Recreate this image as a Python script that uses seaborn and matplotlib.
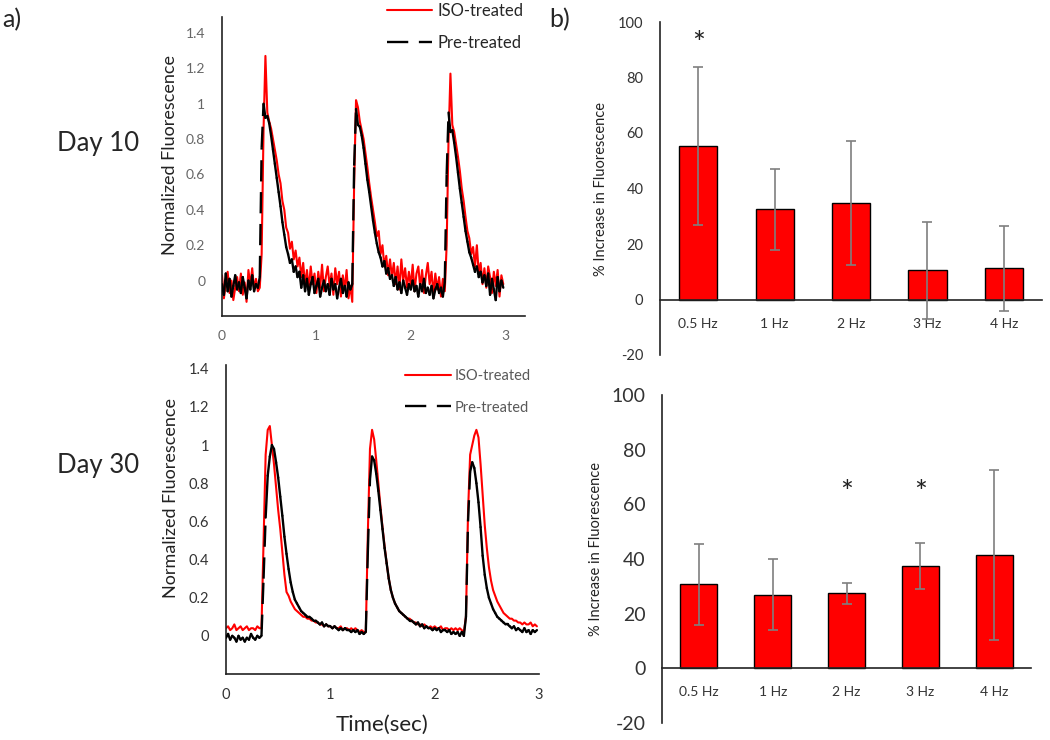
import numpy as np
import pandas as pd
import seaborn as sns
import matplotlib.pyplot as plt
from matplotlib.collections import LineCollection
from matplotlib.lines import Line2D

sns.set_style('white')
plt.rcParams['font.family'] = ['Lato', 'DejaVu Sans']
plt.rcParams['axes.unicode_minus'] = False

# sampling grid of the traces (s)
time_sec = np.round(np.arange(150) * 0.02, 2)

# Day 10 traces (one row = 0.2 s)
day10_iso = [
    0.03, -0.10, -0.02, 0.05, -0.07, 0.00, -0.11, -0.04, 0.02, -0.06,
    0.04, -0.08, -0.01, -0.12, 0.06, -0.03, 0.07, -0.05, 0.01, -0.06,
    -0.04, 0.15, 0.85, 1.27, 0.95, 0.90, 0.86, 0.80, 0.74, 0.68,
    0.60, 0.55, 0.45, 0.40, 0.30, 0.27, 0.18, 0.22, 0.12, 0.17,
    0.08, 0.13, 0.02, 0.10, -0.03, 0.06, -0.05, 0.08, -0.02, 0.04,
    -0.07, 0.05, -0.04, 0.09, -0.06, 0.02, 0.08, -0.03, 0.04, -0.08,
    0.07, -0.02, 0.05, -0.09, 0.03, -0.05, 0.06, -0.10, -0.03, -0.12,
    0.55, 1.02, 0.98, 0.90, 0.85, 0.80, 0.72, 0.64, 0.55, 0.47,
    0.40, 0.33, 0.25, 0.28, 0.15, 0.20, 0.08, 0.14, 0.03, 0.12,
    0.02, 0.10, -0.02, 0.08, -0.05, 0.12, 0.00, 0.07, -0.04, 0.05,
    -0.03, 0.09, -0.06, 0.04, 0.08, -0.04, 0.06, -0.07, 0.03, 0.10,
    -0.02, 0.05, -0.08, 0.04, -0.05, 0.02, -0.09, 0.01, -0.06, 0.20,
    0.80, 1.17, 0.88, 0.84, 0.77, 0.70, 0.62, 0.52, 0.45, 0.36,
    0.28, 0.24, 0.15, 0.19, 0.08, 0.20, 0.04, 0.10, -0.02, 0.07,
    -0.04, 0.08, 0.02, -0.07, 0.05, -0.03, 0.06, -0.09, 0.03, -0.02,
]
day10_pre = [
    -0.02, -0.08, 0.04, -0.06, 0.01, -0.09, -0.03, 0.03, -0.05, -0.01,
    -0.07, 0.02, -0.04, -0.10, 0.00, -0.05, 0.03, -0.06, -0.02, -0.04,
    0.02, 0.75, 1.00, 0.92, 0.93, 0.89, 0.82, 0.74, 0.66, 0.58,
    0.50, 0.42, 0.33, 0.26, 0.19, 0.15, 0.10, 0.12, 0.05, 0.08,
    0.02, 0.05, -0.04, 0.03, -0.06, 0.01, -0.08, -0.02, 0.02, -0.07,
    -0.03, 0.01, -0.09, -0.04, 0.00, -0.06, -0.02, -0.08, 0.01, -0.05,
    -0.02, -0.10, -0.04, 0.01, -0.07, -0.03, -0.09, -0.01, -0.05, -0.02,
    0.65, 0.97, 0.88, 0.87, 0.82, 0.75, 0.66, 0.57, 0.50, 0.42,
    0.34, 0.27, 0.21, 0.16, 0.13, 0.08, 0.11, 0.04, 0.07, 0.01,
    0.03, -0.03, 0.02, -0.05, -0.01, -0.07, 0.00, -0.04, -0.08, -0.02,
    -0.05, 0.00, -0.06, -0.03, -0.09, -0.02, -0.06, 0.01, -0.07, -0.04,
    -0.08, -0.03, -0.10, -0.05, -0.02, -0.07, -0.04, -0.09, -0.01, 0.60,
    0.95, 0.84, 0.85, 0.78, 0.70, 0.61, 0.52, 0.44, 0.36, 0.28,
    0.22, 0.16, 0.13, 0.09, 0.05, 0.08, 0.02, 0.05, -0.01, 0.03,
    -0.03, 0.04, -0.08, 0.01, -0.05, -0.11, 0.02, -0.06, 0.00, -0.04,
]

# Day 30 traces
day30_iso = [
    0.04, 0.05, 0.03, 0.04, 0.06, 0.03, 0.04, 0.05, 0.03, 0.04,
    0.05, 0.03, 0.04, 0.04, 0.03, 0.05, 0.04, 0.04, 0.50, 0.95,
    1.08, 1.10, 1.00, 0.90, 0.78, 0.66, 0.56, 0.44, 0.32, 0.23,
    0.21, 0.18, 0.16, 0.14, 0.13, 0.12, 0.11, 0.10, 0.10, 0.09,
    0.09, 0.08, 0.08, 0.07, 0.07, 0.06, 0.06, 0.05, 0.06, 0.05,
    0.05, 0.04, 0.05, 0.04, 0.04, 0.05, 0.03, 0.04, 0.04, 0.03,
    0.04, 0.03, 0.04, 0.03, 0.02, 0.03, 0.02, 0.02, 0.55, 0.98,
    1.08, 1.03, 0.92, 0.80, 0.68, 0.57, 0.47, 0.38, 0.30, 0.24,
    0.20, 0.17, 0.15, 0.13, 0.12, 0.11, 0.10, 0.09, 0.09, 0.08,
    0.07, 0.07, 0.06, 0.06, 0.05, 0.06, 0.05, 0.04, 0.05, 0.04,
    0.05, 0.04, 0.04, 0.05, 0.03, 0.04, 0.04, 0.03, 0.04, 0.03,
    0.04, 0.03, 0.04, 0.03, 0.02, 0.10, 0.65, 0.95, 1.00, 1.05,
    1.08, 1.04, 0.90, 0.74, 0.58, 0.46, 0.36, 0.29, 0.24, 0.21,
    0.18, 0.16, 0.14, 0.12, 0.11, 0.10, 0.09, 0.09, 0.08, 0.08,
    0.07, 0.07, 0.06, 0.07, 0.06, 0.06, 0.07, 0.05, 0.06, 0.05,
]
day30_pre = [
    -0.01, 0.01, -0.02, 0.00, -0.01, -0.03, 0.00, -0.02, -0.01, -0.03,
    -0.01, -0.02, 0.01, -0.01, -0.02, 0.00, -0.01, 0.00, 0.30, 0.62,
    0.84, 0.94, 1.00, 0.98, 0.91, 0.83, 0.73, 0.63, 0.52, 0.43,
    0.35, 0.28, 0.23, 0.19, 0.17, 0.15, 0.13, 0.12, 0.11, 0.10,
    0.10, 0.09, 0.08, 0.08, 0.07, 0.06, 0.07, 0.05, 0.06, 0.05,
    0.05, 0.04, 0.05, 0.04, 0.03, 0.04, 0.03, 0.04, 0.03, 0.03,
    0.02, 0.03, 0.02, 0.03, 0.01, 0.02, 0.01, 0.02, 0.45, 0.82,
    0.94, 0.92, 0.85, 0.76, 0.66, 0.56, 0.46, 0.38, 0.30, 0.24,
    0.20, 0.17, 0.15, 0.13, 0.12, 0.11, 0.10, 0.09, 0.08, 0.08,
    0.07, 0.06, 0.07, 0.05, 0.06, 0.04, 0.05, 0.04, 0.04, 0.03,
    0.04, 0.03, 0.04, 0.02, 0.03, 0.03, 0.02, 0.03, 0.01, 0.02,
    0.01, 0.02, 0.00, 0.02, 0.00, 0.10, 0.60, 0.86, 0.91, 0.88,
    0.80, 0.70, 0.57, 0.42, 0.32, 0.25, 0.20, 0.17, 0.14, 0.12,
    0.10, 0.09, 0.08, 0.07, 0.06, 0.06, 0.05, 0.04, 0.05, 0.03,
    0.04, 0.03, 0.02, 0.04, 0.02, 0.03, 0.01, 0.03, 0.02, 0.03,
]

# bar charts (% increase, mean and error)
freqs = ['0.5 Hz', '1 Hz', '2 Hz', '3 Hz', '4 Hz']
day10_increase = [55.2, 32.5, 34.7, 10.5, 11.3]
day10_err = [28.5, 14.5, 22.3, 17.5, 15.3]
day10_sig = ['0.5 Hz']
day30_increase = [30.7, 27.0, 27.5, 37.5, 41.5]
day30_err = [14.8, 13.0, 3.8, 8.5, 31.2]
day30_sig = ['2 Hz', '3 Hz']

W, H = 1050, 740
fig = plt.figure(figsize=(10.5, 7.4), dpi=100)
DASH = (0, (9, 4.5))


def px_axes(x0, y_top, x1, y_bot):
    return fig.add_axes([x0 / W, 1 - y_bot / H, (x1 - x0) / W, (y_bot - y_top) / H])


def trace_panel(ax, iso, pre, xmax, ymax, tick_color, tick_size):
    df = pd.DataFrame({'Time': time_sec, 'ISO': iso})
    sns.lineplot(data=df, x='Time', y='ISO', ax=ax, color='#ff0000', lw=1.5, zorder=2)
    # black trace: steep jumps show the long dash, short steps look solid
    pts = np.column_stack([time_sec, pre])
    segs = np.stack([pts[:-1], pts[1:]], axis=1)
    steep = np.abs(np.diff(pre)) > 0.22
    ax.add_collection(LineCollection(segs[~steep], colors='black', linewidths=1.7,
                                     capstyle='round', zorder=3))
    ax.add_collection(LineCollection(segs[steep], colors='black', linewidths=1.7,
                                     linestyles=[DASH], zorder=3))
    ax.set_xlim(0, xmax)
    ax.set_ylim(-0.2, ymax)
    ax.set_xticks([0, 1, 2, 3])
    ax.set_yticks([0, 0.2, 0.4, 0.6, 0.8, 1, 1.2, 1.4])
    ax.set_yticklabels(['0', '0.2', '0.4', '0.6', '0.8', '1', '1.2', '1.4'])
    ax.tick_params(length=0, labelsize=tick_size, colors=tick_color, pad=10)
    ax.tick_params(axis='y', pad=12)
    sns.despine(ax=ax)
    for s in ['left', 'bottom']:
        ax.spines[s].set_color('#222222')
        ax.spines[s].set_linewidth(1.2)
    ax.set_xlabel('')
    ax.set_ylabel('Normalized Fluorescence', fontsize=13, color='#222222')


def bar_panel(ax, vals, errs, ytick_size):
    sns.barplot(x=freqs, y=vals, color='#ff0000', saturation=1, width=0.5,
                edgecolor='black', linewidth=1.0, ax=ax, zorder=2)
    ax.errorbar(range(len(freqs)), vals, yerr=errs, fmt='none', ecolor='#7f7f7f',
                elinewidth=1.2, capsize=3.5, capthick=1.2, zorder=4)
    ax.set_xlim(-0.5, 4.5)
    ax.set_ylim(-20, 100)
    ax.set_yticks(range(-20, 101, 20))
    ax.spines['bottom'].set_position(('data', 0))
    sns.despine(ax=ax)
    for s in ['left', 'bottom']:
        ax.spines[s].set_color('#222222')
        ax.spines[s].set_linewidth(1.2)
    ax.tick_params(length=0, colors='#333333')
    ax.tick_params(axis='x', labelsize=10, pad=13)
    ax.tick_params(axis='y', labelsize=ytick_size, pad=12)
    ax.set_ylabel('% Increase in Fluorescence', fontsize=10.5, color='#222222')


# a) traces
ax1 = px_axes(222, 17, 525, 316)
trace_panel(ax1, day10_iso, day10_pre, 3.21, 1.49, '#666666', 10)
ax1.yaxis.set_label_coords(-0.145, 0.54)

ax2 = px_axes(226, 365, 539, 674)
trace_panel(ax2, day30_iso, day30_pre, 3.0, 1.42, '#333333', 10.5)
ax2.yaxis.set_label_coords(-0.15, 0.57)

# legends
h_iso = Line2D([], [], color='#ff0000', lw=1.5)
h_pre = Line2D([], [], color='black', lw=1.7, linestyle=DASH)
fig.legend([h_iso, h_pre], ['ISO-treated', 'Pre-treated'], loc='upper left',
           bbox_to_anchor=(387 / W, 1 - 3 / H), frameon=False, fontsize=12,
           handlelength=2.7, handletextpad=0.35, labelspacing=0.95,
           borderpad=0, borderaxespad=0, labelcolor='#262626')
fig.legend([h_iso, h_pre], ['ISO-treated', 'Pre-treated'], loc='upper left',
           bbox_to_anchor=(405 / W, 1 - 369 / H), frameon=False, fontsize=10.5,
           handlelength=3.15, handletextpad=0.27, labelspacing=1.2,
           borderpad=0, borderaxespad=0, labelcolor='#595959')

# b) bar charts
ax3 = px_axes(660, 22, 1042, 355)
bar_panel(ax3, day10_increase, day10_err, 10.5)
ax3.yaxis.set_label_coords(-0.136, 0.5)
for f in day10_sig:
    ax3.text(freqs.index(f), 92, '*', ha='center', va='center', fontsize=22, color='#222222')

ax4 = px_axes(662, 395, 1031, 723)
bar_panel(ax4, day30_increase, day30_err, 14)
ax4.yaxis.set_label_coords(-0.16, 0.53)
for f in day30_sig:
    ax4.text(freqs.index(f), 64, '*', ha='center', va='center', fontsize=22, color='#222222')

# panel letters and row labels
fig.text(2 / W, 1 - 20 / H, 'a)', fontsize=18, va='center', ha='left')
fig.text(549 / W, 1 - 20 / H, 'b)', fontsize=18, va='center', ha='left')
fig.text(57 / W, 1 - 143 / H, 'Day 10', fontsize=18.5, va='center', ha='left')
fig.text(57 / W, 1 - 465 / H, 'Day 30', fontsize=18.5, va='center', ha='left')
fig.text(382 / W, 1 - 725 / H, 'Time(sec)', fontsize=16, va='center', ha='center', color='#222222')

fig.savefig('out.png', dpi=100)
